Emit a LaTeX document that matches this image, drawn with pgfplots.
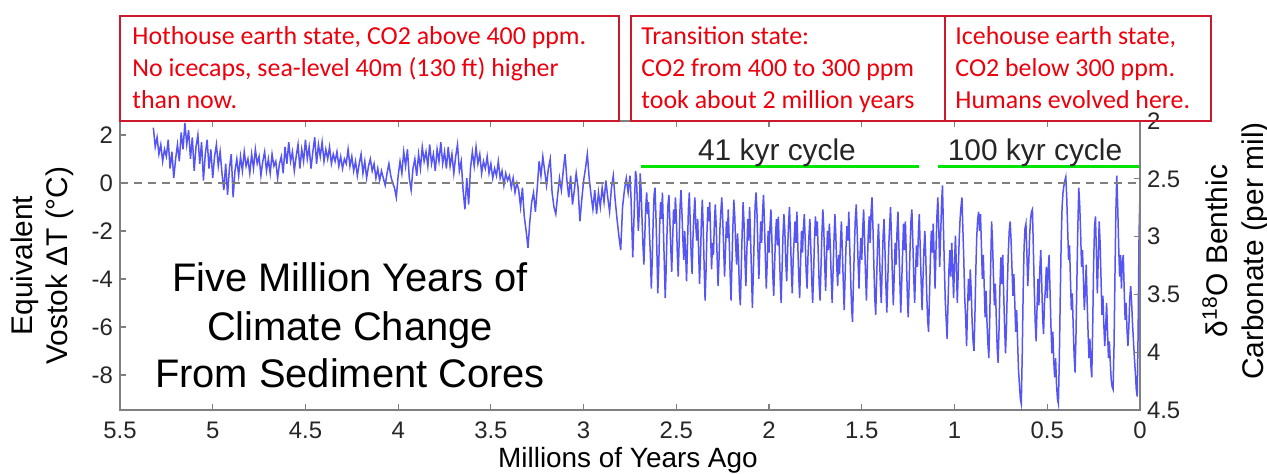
\documentclass[border=0pt]{standalone}
\usepackage{fontspec}
\setmainfont{Liberation Sans}
\newfontfamily\calibri{Carlito}
\usepackage{pgfplots}
\pgfplotsset{compat=1.18}
\definecolor{boxred}{RGB}{205,25,45}
\definecolor{txtred}{RGB}{236,0,12}
\definecolor{cyclegreen}{RGB}{0,228,0}
\definecolor{lineblue}{RGB}{85,85,245}
\begin{document}
\begin{tikzpicture}
\begin{axis}[
  name=main, at={(0,0)}, anchor=south west,
  scale only axis, width=510bp, height=144.5bp,
  xmin=0, xmax=5.5, x dir=reverse,
  ymin=-9.46, ymax=2.58,
  xtick={0,0.5,1,1.5,2,2.5,3,3.5,4,4.5,5,5.5},
  ytick={-8,-6,-4,-2,0,2},
  ytick pos=left,
  tick align=inside,
  major tick length=3bp,
  axis line style={draw=gray, line width=0.7bp},
  every tick/.style={gray, line width=0.6bp},
  tick label style={font=\fontsize{12}{12}\selectfont, text=black!85},
  xticklabel style={yshift=-2.5bp},
  /pgf/number format/assume math mode=true,
  clip=false,
  xlabel={Millions of Years Ago},
  xlabel style={at={(axis description cs:0.498,-0.2)}, anchor=base, font=\fontsize{14}{14}\selectfont},
  ylabel={Equivalent\\Vostok ΔT (°C)},
  ylabel style={at={(axis description cs:-0.0765,0.5)}, anchor=center, align=center,
    font=\fontsize{15}{17.5}\selectfont},
]
% climate record (deg C)
\addplot[lineblue, line width=0.75bp] coordinates {
(5.32,2.3)(5.31,1.5)(5.30,1.9)(5.29,1.2)(5.28,1.6)(5.27,0.9)(5.26,1.4)(5.25,1.1)(5.24,1.8)(5.23,0.6)
(5.22,1.3)(5.21,0.2)(5.20,1.0)(5.19,1.6)(5.18,0.9)(5.17,2.1)(5.16,1.4)(5.15,2.5)(5.14,1.6)(5.13,2.2)
(5.12,1.0)(5.11,1.9)(5.10,0.5)(5.09,1.5)(5.08,2.0)(5.07,0.8)(5.06,1.7)(5.05,0.1)(5.04,1.2)(5.03,1.8)
(5.02,0.6)(5.01,1.4)(5.00,0.2)(4.99,1.1)(4.98,1.6)(4.97,0.7)(4.96,1.3)(4.95,0.4)(4.94,-0.3)(4.93,0.8)
(4.92,-0.5)(4.91,0.6)(4.90,1.2)(4.89,-0.6)(4.88,0.5)(4.87,1.0)(4.86,0.3)(4.85,1.1)(4.84,0.5)(4.83,1.3)
(4.82,0.7)(4.81,1.0)(4.80,0.4)(4.79,1.2)(4.78,0.6)(4.77,1.4)(4.76,0.8)(4.75,1.1)(4.74,0.3)(4.73,0.9)
(4.72,1.3)(4.71,0.5)(4.70,1.0)(4.69,0.4)(4.68,1.2)(4.67,0.7)(4.66,0.9)(4.65,0.2)(4.64,0.8)(4.63,1.1)
(4.62,0.4)(4.61,1.5)(4.60,0.8)(4.59,1.7)(4.58,0.9)(4.57,1.3)(4.56,0.5)(4.55,1.1)(4.54,1.6)(4.53,0.6)
(4.52,1.4)(4.51,0.9)(4.50,1.8)(4.49,1.0)(4.48,1.5)(4.47,0.6)(4.46,1.3)(4.45,1.9)(4.44,0.8)(4.43,1.6)
(4.42,1.1)(4.41,1.7)(4.40,0.9)(4.39,1.4)(4.38,1.0)(4.37,1.5)(4.36,0.8)(4.35,1.2)(4.34,0.9)(4.33,1.3)
(4.32,0.7)(4.31,1.1)(4.30,0.6)(4.29,1.0)(4.28,0.8)(4.27,1.4)(4.26,0.7)(4.25,1.1)(4.24,0.5)(4.23,0.9)
(4.22,0.3)(4.21,0.8)(4.20,1.2)(4.19,0.4)(4.18,0.9)(4.17,0.2)(4.16,0.7)(4.15,1.0)(4.14,0.5)(4.13,0.8)
(4.12,0.2)(4.11,0.6)(4.10,0.1)(4.09,0.5)(4.08,0.2)(4.07,-0.1)(4.06,0.4)(4.05,0.8)(4.04,0.3)(4.03,0.0)
(4.02,-0.2)(4.01,-0.6)(4.00,0.3)(3.99,0.9)(3.98,0.4)(3.97,1.3)(3.96,0.7)(3.95,1.4)(3.94,0.2)(3.93,-0.3)
(3.92,0.6)(3.91,1.0)(3.90,0.3)(3.89,1.2)(3.88,0.6)(3.87,1.5)(3.86,0.9)(3.85,1.3)(3.84,0.7)(3.83,1.6)
(3.82,0.8)(3.81,1.2)(3.80,0.5)(3.79,1.4)(3.78,0.9)(3.77,1.7)(3.76,0.8)(3.75,1.3)(3.74,0.6)(3.73,1.5)
(3.72,0.7)(3.71,1.2)(3.70,0.4)(3.69,1.1)(3.68,1.6)(3.67,0.5)(3.66,0.9)(3.65,-0.3)(3.64,-1.1)(3.63,0.2)
(3.62,-0.9)(3.61,0.6)(3.60,1.3)(3.59,0.7)(3.58,1.5)(3.57,0.8)(3.56,1.2)(3.55,0.4)(3.54,0.9)(3.53,0.6)
(3.52,1.1)(3.51,0.4)(3.50,0.8)(3.49,0.2)(3.48,0.6)(3.47,0.3)(3.46,0.9)(3.45,0.2)(3.44,0.5)(3.43,-0.1)
(3.42,0.4)(3.41,0.1)(3.40,0.3)(3.39,-0.2)(3.38,0.2)(3.37,-0.4)(3.36,0.0)(3.35,-0.3)(3.34,-1.0)(3.33,-0.2)
(3.32,-1.4)(3.31,-2.0)(3.30,-2.7)(3.29,-1.6)(3.28,-0.8)(3.27,-0.4)(3.26,-1.2)(3.25,-0.2)(3.24,0.9)(3.23,0.3)
(3.22,1.1)(3.21,0.5)(3.20,-0.1)(3.19,0.6)(3.18,1.0)(3.17,-0.4)(3.16,-1.0)(3.15,-1.3)(3.14,-0.5)(3.13,0.2)
(3.12,-0.3)(3.11,0.5)(3.10,1.2)(3.09,0.1)(3.08,-0.6)(3.07,0.3)(3.06,-0.9)(3.05,-0.3)(3.04,0.4)(3.03,-0.2)
(3.02,-1.6)(3.01,-0.7)(3.00,0.1)(2.99,0.6)(2.98,1.2)(2.97,0.2)(2.96,-0.5)(2.95,-1.1)(2.94,-0.3)(2.93,-1.3)
(2.92,-0.4)(2.91,-1.0)(2.90,-0.2)(2.89,-0.8)(2.88,0.1)(2.87,-0.6)(2.86,-1.2)(2.85,-0.2)(2.84,0.3)(2.83,-0.7)
(2.82,-1.5)(2.81,-2.2)(2.80,-2.8)(2.79,-1.0)(2.78,-0.3)(2.77,0.2)(2.76,-0.4)
(2.750,0.3)(2.745,-0.5)(2.740,-1.8)(2.735,-3.1)(2.730,-1.9)(2.725,-0.6)(2.720,0.5)(2.715,0.2)(2.710,-0.9)(2.705,-2.0)
(2.700,-1.2)(2.695,0.4)(2.690,-0.3)(2.685,-1.5)(2.680,-2.6)(2.675,-3.4)(2.670,-2.2)(2.665,-1.0)(2.660,-0.4)(2.655,-1.3)
(2.650,-0.8)(2.645,-2.1)(2.640,-3.0)(2.635,-4.4)(2.630,-3.2)(2.625,-1.6)(2.620,-0.5)(2.615,-0.2)(2.610,-1.4)(2.605,-2.8)
(2.600,-4.6)(2.595,-3.5)(2.590,-1.8)(2.585,-0.8)(2.580,-1.5)(2.575,-0.4)(2.570,-1.9)(2.565,-3.3)(2.560,-4.8)(2.555,-3.6)
(2.550,-2.0)(2.545,-0.9)(2.540,-0.5)(2.535,-1.6)(2.530,-2.7)(2.525,-3.7)(2.520,-2.4)(2.515,-1.1)(2.510,-1.7)(2.505,-0.6)
(2.500,-1.4)(2.495,-2.9)(2.490,-3.9)(2.485,-2.5)(2.480,-1.0)(2.475,-0.3)(2.470,-1.2)(2.465,-2.3)(2.460,-3.2)(2.455,-2.0)
(2.450,-2.9)(2.445,-4.1)(2.440,-2.6)(2.435,-1.1)(2.430,-0.4)(2.425,-1.7)(2.420,-3.0)(2.415,-3.8)(2.410,-2.2)(2.405,-1.3)
(2.400,-0.6)(2.395,-1.8)(2.390,-2.4)(2.385,-1.5)(2.380,-2.8)(2.375,-4.2)(2.370,-3.1)(2.365,-1.6)(2.360,-0.7)(2.355,-1.9)
(2.350,-3.5)(2.345,-4.9)(2.340,-3.7)(2.335,-2.1)(2.330,-1.0)(2.325,-1.6)(2.320,-0.8)(2.315,-2.2)(2.310,-3.6)(2.305,-2.5)
(2.300,-3.0)(2.295,-1.7)(2.290,-0.9)(2.285,-1.8)(2.280,-3.1)(2.275,-4.3)(2.270,-3.2)(2.265,-1.9)(2.260,-1.2)(2.255,-0.6)
(2.250,-1.5)(2.245,-2.7)(2.240,-3.9)(2.235,-2.8)(2.230,-1.6)(2.225,-2.3)(2.220,-1.1)(2.215,-2.4)(2.210,-3.8)(2.205,-4.9)
(2.200,-3.3)(2.195,-1.8)(2.190,-0.7)(2.185,-1.4)(2.180,-2.6)(2.175,-3.4)(2.170,-2.1)(2.165,-3.0)(2.160,-4.5)(2.155,-5.1)
(2.150,-3.6)(2.145,-2.0)(2.140,-0.8)(2.135,-1.7)(2.130,-3.2)(2.125,-4.3)(2.120,-2.9)(2.115,-1.5)(2.110,-2.4)(2.105,-1.0)
(2.100,-2.2)(2.095,-3.7)(2.090,-5.2)(2.085,-3.8)(2.080,-2.2)(2.075,-0.9)(2.070,-0.4)(2.065,-1.3)(2.060,-2.8)(2.055,-4.0)
(2.050,-2.7)(2.045,-1.6)(2.040,-2.5)(2.035,-1.2)(2.030,-0.5)(2.025,-1.6)(2.020,-3.1)(2.015,-4.4)(2.010,-3.3)(2.005,-2.0)
(2.000,-2.9)(1.995,-1.8)(1.990,-1.1)(1.985,-2.3)(1.980,-3.8)(1.975,-4.7)(1.970,-3.4)(1.965,-2.1)(1.960,-1.5)(1.955,-2.6)
(1.950,-1.4)(1.945,-2.7)(1.940,-4.0)(1.935,-5.0)(1.930,-3.6)(1.925,-2.2)(1.920,-1.3)(1.915,-2.0)(1.910,-3.3)(1.905,-4.1)
(1.900,-2.8)(1.895,-1.7)(1.890,-1.0)(1.885,-2.1)(1.880,-3.6)(1.875,-4.6)(1.870,-3.2)(1.865,-2.4)(1.860,-1.6)(1.855,-2.5)
(1.850,-1.2)(1.845,-2.6)(1.840,-3.9)(1.835,-4.8)(1.830,-3.3)(1.825,-2.0)(1.820,-2.9)(1.815,-1.9)(1.810,-1.3)(1.805,-2.4)
(1.800,-3.7)(1.795,-4.4)(1.790,-3.0)(1.785,-2.2)(1.780,-1.5)(1.775,-2.7)(1.770,-4.0)(1.765,-5.0)(1.760,-3.8)(1.755,-2.3)
(1.750,-1.4)(1.745,-2.2)(1.740,-1.6)(1.735,-2.9)(1.730,-4.2)(1.725,-4.9)(1.720,-3.5)(1.715,-2.1)(1.710,-1.1)(1.705,-1.9)
(1.700,-3.4)(1.695,-4.5)(1.690,-3.1)(1.685,-2.0)(1.680,-2.8)(1.675,-1.7)(1.670,-2.6)(1.665,-3.9)(1.660,-5.0)(1.655,-3.7)
(1.650,-2.4)(1.645,-1.3)(1.640,-2.2)(1.635,-3.5)(1.630,-4.3)(1.625,-3.0)(1.620,-3.8)(1.615,-2.5)(1.610,-1.6)(1.605,-2.8)
(1.600,-4.1)(1.595,-5.3)(1.590,-3.9)(1.585,-2.6)(1.580,-1.8)(1.575,-2.4)(1.570,-1.2)(1.565,-2.7)(1.560,-4.0)(1.555,-5.2)
(1.550,-5.8)(1.545,-4.1)(1.540,-2.7)(1.535,-1.5)(1.530,-0.9)(1.525,-2.0)(1.520,-3.3)(1.515,-4.4)(1.510,-3.1)(1.505,-2.3)
(1.500,-3.2)(1.495,-1.9)(1.490,-1.1)(1.485,-2.4)(1.480,-3.8)(1.475,-4.9)(1.470,-3.4)(1.465,-2.1)(1.460,-1.4)(1.455,-2.5)
(1.450,-1.2)(1.445,-0.6)(1.440,-1.8)(1.435,-3.4)(1.430,-4.8)(1.425,-5.5)(1.420,-4.0)(1.415,-2.6)(1.410,-1.7)(1.405,-2.9)
(1.400,-4.2)(1.395,-5.0)(1.390,-3.5)(1.385,-2.2)(1.380,-1.5)(1.375,-2.8)(1.370,-4.3)(1.365,-5.4)(1.360,-4.1)(1.355,-2.7)
(1.350,-1.8)(1.345,-1.0)(1.340,-2.3)(1.335,-3.9)(1.330,-5.1)(1.325,-3.8)(1.320,-2.5)(1.315,-3.4)(1.310,-2.0)(1.305,-1.2)
(1.300,-2.6)(1.295,-4.0)(1.290,-5.4)(1.285,-4.2)(1.280,-2.9)(1.275,-1.7)(1.270,-2.8)(1.265,-1.6)(1.260,-3.0)(1.255,-4.5)
(1.250,-5.6)(1.245,-4.3)(1.240,-2.8)(1.235,-1.6)(1.230,-1.1)(1.225,-2.4)(1.220,-3.9)(1.215,-5.0)(1.210,-3.7)(1.205,-2.6)
(1.200,-3.5)(1.195,-2.1)(1.190,-1.3)(1.185,-2.7)(1.180,-4.1)(1.175,-5.3)(1.170,-4.0)(1.165,-2.8)(1.160,-2.0)(1.155,-3.1)
(1.150,-4.6)(1.145,-5.7)(1.140,-6.2)(1.135,-4.7)(1.130,-3.1)(1.125,-2.0)(1.120,-2.9)(1.115,-1.7)(1.110,-3.0)(1.105,-4.4)
(1.100,-2.8)(1.095,-1.4)(1.090,-0.6)(1.085,-1.9)(1.080,-3.5)(1.075,-2.2)(1.070,-0.9)(1.065,-0.1)(1.060,-1.8)(1.055,-3.4)
(1.050,-4.9)(1.045,-5.7)(1.040,-6.5)(1.035,-5.0)(1.030,-3.6)(1.025,-2.8)(1.020,-3.9)(1.015,-2.5)(1.010,-3.6)(1.005,-4.8)
(1.000,-3.3)(0.995,-2.2)(0.990,-3.5)(0.985,-5.0)(0.980,-3.7)(0.975,-2.4)(0.970,-1.5)(0.965,-1.0)(0.960,-0.6)(0.955,-1.9)
(0.950,-3.2)(0.945,-4.8)(0.940,-5.6)(0.935,-6.8)(0.930,-5.3)(0.925,-4.0)(0.920,-4.9)(0.915,-3.6)(0.910,-4.5)(0.905,-5.8)
(0.900,-6.6)(0.895,-7.0)(0.890,-5.5)(0.885,-3.6)(0.880,-2.2)(0.875,-1.5)(0.870,-1.2)(0.865,-2.0)(0.860,-1.3)(0.855,-2.6)
(0.850,-4.0)(0.845,-3.0)(0.840,-4.3)(0.835,-5.6)(0.830,-4.5)(0.825,-5.8)(0.820,-6.7)(0.815,-7.3)(0.810,-5.6)(0.805,-3.4)
(0.800,-1.6)(0.795,-2.5)(0.790,-3.9)(0.785,-5.1)(0.780,-4.2)(0.775,-5.6)(0.770,-6.9)(0.765,-7.5)(0.760,-6.1)(0.755,-4.3)
(0.750,-3.1)(0.745,-4.2)(0.740,-3.0)(0.735,-4.6)(0.730,-6.0)(0.725,-7.1)(0.720,-6.0)(0.715,-4.2)(0.710,-2.9)(0.705,-2.0)
(0.700,-1.6)(0.695,-2.4)(0.690,-3.6)(0.685,-4.7)(0.680,-3.8)(0.675,-5.0)(0.670,-6.2)(0.665,-5.3)(0.660,-6.6)(0.655,-7.8)
(0.650,-8.4)(0.645,-9.0)(0.640,-9.2)(0.635,-7.2)(0.630,-4.6)(0.625,-2.7)(0.620,-1.9)(0.615,-1.7)(0.610,-2.9)(0.605,-4.3)
(0.600,-3.4)(0.595,-2.2)(0.590,-1.5)(0.585,-1.2)(0.580,-1.1)(0.575,-2.7)(0.570,-4.4)(0.565,-5.8)(0.560,-6.6)(0.555,-5.2)
(0.550,-4.0)(0.545,-5.1)(0.540,-3.6)(0.535,-2.8)(0.530,-4.1)(0.525,-5.6)(0.520,-6.3)(0.515,-5.0)(0.510,-4.4)(0.505,-3.5)
(0.500,-4.8)(0.495,-3.6)(0.490,-3.0)(0.485,-4.5)(0.480,-6.0)(0.475,-7.1)(0.470,-6.2)(0.465,-7.4)(0.460,-8.1)(0.455,-7.3)
(0.450,-8.4)(0.445,-9.0)(0.440,-9.2)(0.435,-7.4)(0.430,-4.8)(0.425,-2.5)(0.420,-1.0)(0.415,-0.4)(0.410,-0.1)(0.405,0.1)
(0.400,0.25)(0.395,-0.6)(0.390,-1.9)(0.385,-3.2)(0.380,-2.6)(0.375,-4.0)(0.370,-5.3)(0.365,-4.6)(0.360,-6.0)(0.355,-7.2)
(0.350,-7.9)(0.345,-6.3)(0.340,-4.0)(0.335,-1.8)(0.330,-0.2)(0.325,-0.9)(0.320,-2.1)(0.315,-3.5)(0.310,-2.8)(0.305,-4.0)
(0.300,-5.3)(0.295,-4.5)(0.290,-3.4)(0.285,-4.9)(0.280,-6.2)(0.275,-7.3)(0.270,-6.5)(0.265,-7.6)(0.260,-8.1)(0.255,-6.0)
(0.250,-3.4)(0.245,-1.8)(0.240,-1.4)(0.235,-2.9)(0.230,-4.6)(0.225,-3.2)(0.220,-1.6)(0.215,-2.5)(0.210,-4.0)(0.205,-5.5)
(0.200,-4.7)(0.195,-5.9)(0.190,-6.8)(0.185,-6.0)(0.180,-5.0)(0.175,-6.2)(0.170,-7.3)(0.165,-6.6)(0.160,-7.5)(0.155,-8.2)
(0.150,-8.5)(0.145,-8.6)(0.140,-6.8)(0.135,-3.9)(0.130,-1.2)(0.125,0.3)(0.120,-1.0)(0.115,-2.6)(0.110,-3.9)(0.105,-3.0)
(0.100,-4.4)(0.095,-3.3)(0.090,-3.0)(0.085,-4.5)(0.080,-5.7)(0.075,-5.0)(0.070,-6.1)(0.065,-6.8)(0.060,-6.0)(0.055,-4.8)
(0.050,-4.3)(0.045,-5.0)(0.040,-5.9)(0.035,-6.6)(0.030,-7.3)(0.025,-7.9)(0.020,-8.6)(0.015,-8.9)(0.010,-6.2)(0.005,-2.1)
(0.000,-0.4)
};
% present-day reference level
\addplot[gray, line width=1.1bp, dash pattern=on 4bp off 3bp] coordinates {(5.5,0) (0,0)};
% cycle bars
\addplot[cyclegreen, line width=1.6bp] coordinates {(2.69,0.7) (1.19,0.7)};
\addplot[cyclegreen, line width=1.6bp] coordinates {(1.09,0.7) (0,0.7)};
\end{axis}
\begin{axis}[
  at={(0,0)}, anchor=south west,
  scale only axis, width=510bp, height=144.5bp,
  xmin=0, xmax=5.5, x dir=reverse, hide x axis,
  axis y line*=right,
  ymin=2, ymax=4.5, y dir=reverse,
  ytick={2,2.5,3,3.5,4,4.5},
  tick align=inside,
  major tick length=3bp,
  axis line style={draw=gray, line width=0.7bp},
  every tick/.style={gray, line width=0.6bp},
  tick label style={font=\fontsize{12}{12}\selectfont, text=black!85},
  /pgf/number format/assume math mode=true,
  ylabel={δ\textsuperscript{18}O Benthic\\Carbonate (per mil)},
  ylabel style={at={(axis description cs:1.094,0.55)}, anchor=center, align=center,
    rotate=0, font=\fontsize{15}{18}\selectfont},
]
\end{axis}
% annotations
\node[font=\fontsize{20}{20}\selectfont, anchor=base] at (115bp,59bp) {Five Million Years of};
\node[font=\fontsize{20}{20}\selectfont, anchor=base] at (115bp,35bp) {Climate Change};
\node[font=\fontsize{20}{20}\selectfont, anchor=base] at (115bp,11.5bp) {From Sediment Cores};
\node[font=\fontsize{15}{15}\selectfont, anchor=base, text=black!85] at (328.5bp,124.6bp) {41 kyr cycle};
\node[font=\fontsize{15}{15}\selectfont, anchor=base, text=black!85] at (457.5bp,124.6bp) {100 kyr cycle};
\draw[boxred, line width=0.8bp] (0,144.5bp) rectangle (249.5bp,197bp);
\draw[boxred, line width=0.8bp] (255.5bp,144.5bp) rectangle (412.5bp,197bp);
\draw[boxred, line width=0.8bp] (412.5bp,144.5bp) rectangle (545.5bp,197bp);
\begin{scope}[every node/.style={anchor=base west, inner sep=0pt, text=txtred, font=\calibri\fontsize{13}{13}\selectfont}]
\node at (6bp,182.5bp) {Hothouse earth state, CO2 above 400 ppm.};
\node at (6bp,166.5bp) {No icecaps, sea-level 40m (130 ft) higher};
\node at (6bp,150.5bp) {than now.};
\node at (260.5bp,182.5bp) {Transition state:};
\node at (260.5bp,166.5bp) {CO2 from 400 to 300 ppm};
\node at (260.5bp,150.5bp) {took about 2 million years};
\node at (417.5bp,182.5bp) {Icehouse earth state,};
\node at (417.5bp,166.5bp) {CO2 below 300 ppm.};
\node at (417.5bp,150.5bp) {Humans evolved here.};
\end{scope}
\pgfresetboundingbox
\path[use as bounding box] (-60bp,-32bp) rectangle (573.5bp,205bp);
\end{tikzpicture}
\end{document}
